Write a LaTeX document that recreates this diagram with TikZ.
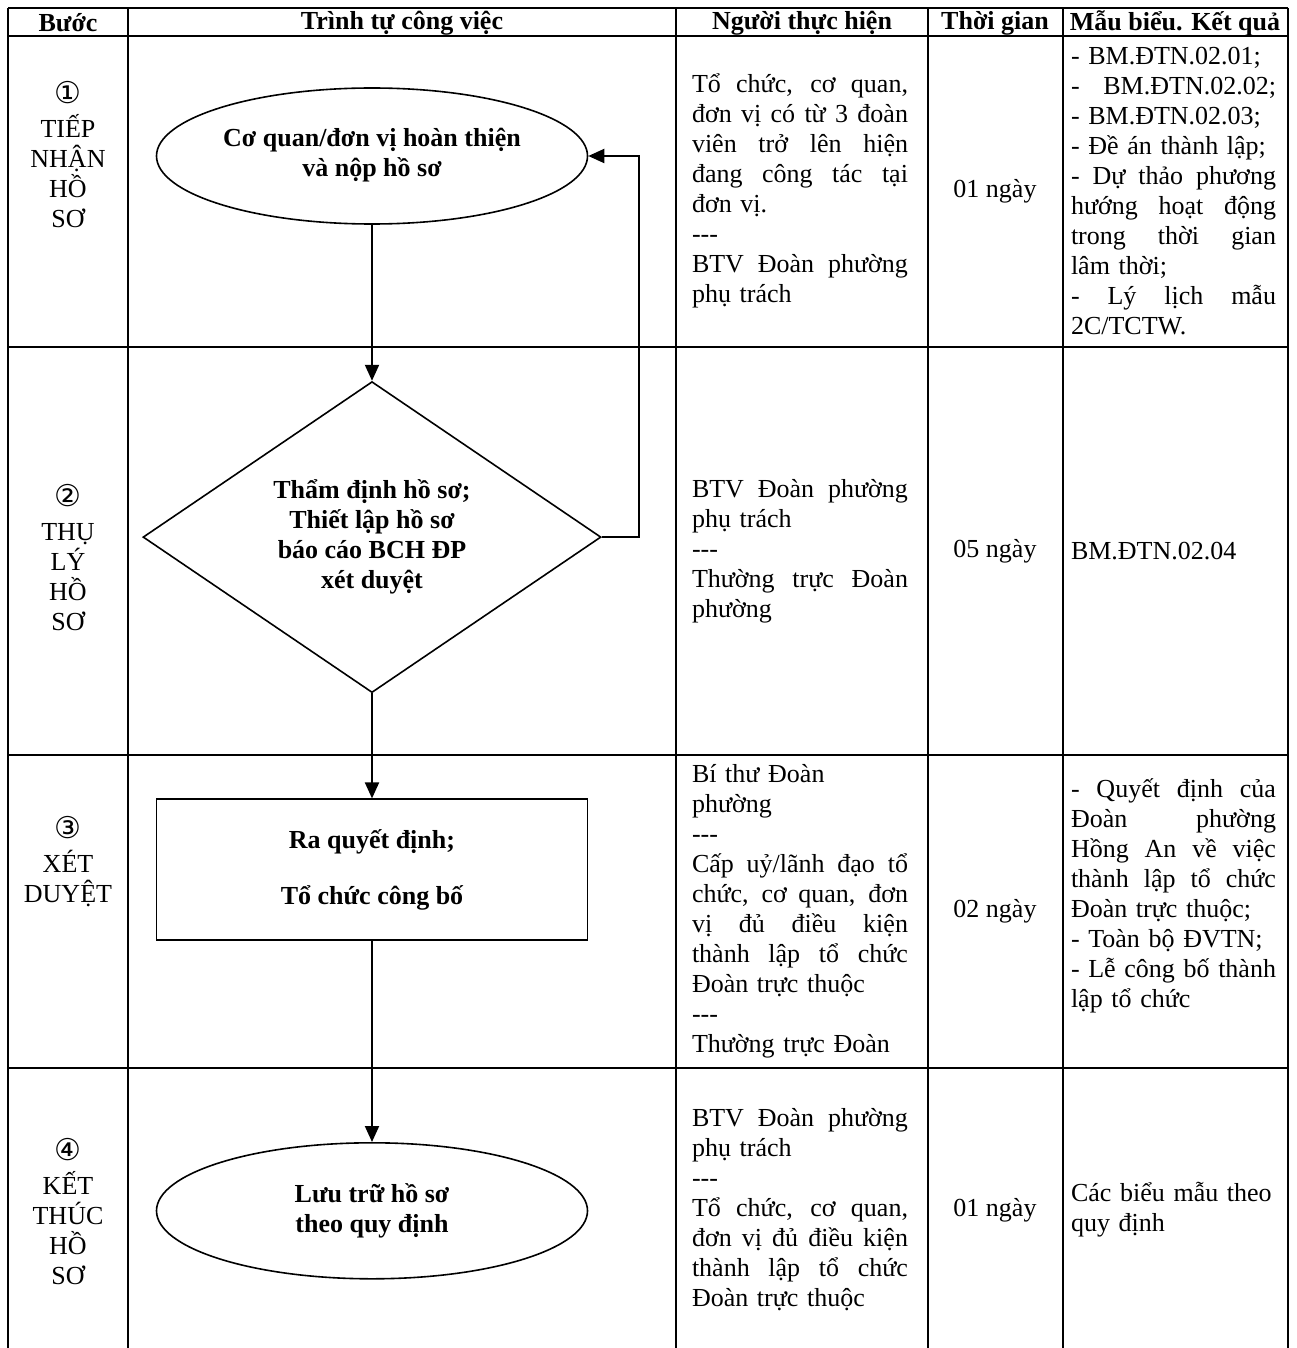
\documentclass[tikz,border=0pt]{standalone}
\usepackage{fontspec}
\setmainfont{Liberation Serif}
\newfontfamily\circfont{DejaVu Sans}
\usepackage{tikz}
\usetikzlibrary{positioning, shapes.geometric, arrows.meta}
\newcommand{\bodyfont}{\fontsize{13pt}{15pt}\selectfont}
\newcommand{\jl}[1]{\noindent\makebox[\hsize][s]{\spaceskip=0pt\xspaceskip=0pt #1}}
\newcommand{\cnum}[1]{{\circfont\fontsize{15pt}{15pt}\selectfont #1}}
\tikzset{gridline/.style={line width=1pt}}
\tikzset{txt/.style={inner sep=0pt, font=\bodyfont}}
\tikzset{hdr/.style={txt, font=\bodyfont\bfseries}}
\tikzset{stepcol/.style={txt, align=center}}
\tikzset{whocol/.style={txt, text width=108pt, align=left}}
\tikzset{whatcol/.style={txt, text width=102.5pt, align=left}}
\tikzset{flowshape/.style={draw, line width=0.8pt, inner sep=0pt, align=center, font=\bodyfont\bfseries}}
\tikzset{endell/.style={flowshape, ellipse, minimum width=215.5pt, minimum height=68pt}}
\tikzset{decide/.style={flowshape, diamond, aspect=1.47, minimum width=229pt, minimum height=155.5pt}}
\tikzset{procbox/.style={flowshape, rectangle, minimum width=215.5pt, minimum height=70.5pt}}
\tikzset{arr/.style={draw, -{Triangle[length=8pt, width=7pt]}, line width=1pt}}

\begin{document}
\begin{tikzpicture}[x=0.5pt, y=-0.5pt]
\useasboundingbox (0,0) rectangle (1296,1348);
% table lines
\draw[gridline] (8,8) -- (1288,8);
\draw[gridline] (8,36) -- (1288,36);
\draw[gridline] (8,347) -- (1288,347);
\draw[gridline] (8,755) -- (1288,755);
\draw[gridline] (8,1068) -- (1288,1068);
\draw[gridline] (8,8) -- (8,1348);
\draw[gridline] (128,8) -- (128,1348);
\draw[gridline] (676,8) -- (676,1348);
\draw[gridline] (928,8) -- (928,1348);
\draw[gridline] (1063,8) -- (1063,1348);
\draw[gridline] (1288,8) -- (1288,1348);

% header
\node[hdr] (hbuoc) at (68,23) {Bước};
\node[hdr] (htrinhtu) at (402,23) {Trình tự công việc};
\node[hdr] (hnguoi) at (802,23) {Người thực hiện};
\node[hdr] (hthoigian) at (995,23) {Thời gian};
\node[hdr] (hmau) at (1175,23) {Mẫu biểu. Kết quả};

% step column
\node[stepcol] (buoc1) at (68,155) {\cnum{①}\\[2pt]TIẾP\\NHẬN\\HỒ\\SƠ};
\node[stepcol] (buoc2) at (68,558) {\cnum{②}\\[2pt]THỤ\\LÝ\\HỒ\\SƠ};
\node[stepcol] (buoc3) at (68,862) {\cnum{③}\\[2pt]XÉT\\DUYỆT};
\node[stepcol] (buoc4) at (68,1212) {\cnum{④}\\[2pt]KẾT\\THÚC\\HỒ\\SƠ};

% flow
\node[endell] (nop) at (372,156) {Cơ quan/đơn vị hoàn thiện\\và nộp hồ sơ\\[-11pt]};
\node[decide, below=78pt of nop] (thamdinh) {Thẩm định hồ sơ;\\Thiết lập hồ sơ\\báo cáo BCH ĐP\\xét duyệt};
\node[procbox, below=52.5pt of thamdinh] (quyetdinh) {Ra quyết định;\\[13pt]Tổ chức công bố};
\node[endell, below=100.5pt of quyetdinh] (luutru) {Lưu trữ hồ sơ\\theo quy định};
\draw[arr] (nop) -- (thamdinh);
\draw[arr] (thamdinh) -- (quyetdinh);
\draw[arr] (quyetdinh) -- (luutru);
\draw[arr] (thamdinh.east) -- ++(37,0) |- (nop.east);

% who
\node[whocol] (nguoi1) at (800,191) {\jl{Tổ chức, cơ quan,}\\\jl{đơn vị có từ 3 đoàn}\\\jl{viên trở lên hiện}\\\jl{đang công tác tại}\\đơn vị.\\-{}-{}-\\\jl{BTV Đoàn phường}\\phụ trách};
\node[whocol] (nguoi2) at (800,551) {\jl{BTV Đoàn phường}\\phụ trách\\-{}-{}-\\\jl{Thường trực Đoàn}\\phường};
\node[whocol] (nguoi3) at (800,911) {Bí thư Đoàn\\phường\\-{}-{}-\\\jl{Cấp uỷ/lãnh đạo tổ}\\\jl{chức, cơ quan, đơn}\\\jl{vị đủ điều kiện}\\\jl{thành lập tổ chức}\\Đoàn trực thuộc\\-{}-{}-\\Thường trực Đoàn};
\node[whocol] (nguoi4) at (800,1210) {\jl{BTV Đoàn phường}\\phụ trách\\-{}-{}-\\\jl{Tổ chức, cơ quan,}\\\jl{đơn vị đủ điều kiện}\\\jl{thành lập tổ chức}\\Đoàn trực thuộc};

% time
\node[txt] (tg1) at (995,191) {01 ngày};
\node[txt] (tg2) at (995,551) {05 ngày};
\node[txt] (tg3) at (995,911) {02 ngày};
\node[txt] (tg4) at (995,1210) {01 ngày};

% forms, results
\node[whatcol] (mau1) at (1173.5,191) {- BM.ĐTN.02.01;\\\jl{- BM.ĐTN.02.02;}\\- BM.ĐTN.02.03;\\- Đề án thành lập;\\\jl{- Dự thảo phương}\\\jl{hướng hoạt động}\\\jl{trong thời gian}\\lâm thời;\\\jl{- Lý lịch mẫu}\\2C/TCTW.};
\node[whatcol] (mau2) at (1173.5,551) {BM.ĐTN.02.04};
\node[whatcol] (mau3) at (1173.5,896) {\jl{- Quyết định của}\\\jl{Đoàn phường}\\\jl{Hồng An về việc}\\\jl{thành lập tổ chức}\\Đoàn trực thuộc;\\- Toàn bộ ĐVTN;\\\jl{- Lễ công bố thành}\\lập tổ chức};
\node[whatcol] (mau4) at (1173.5,1210) {Các biểu mẫu theo\\quy định};
\end{tikzpicture}
\end{document}
